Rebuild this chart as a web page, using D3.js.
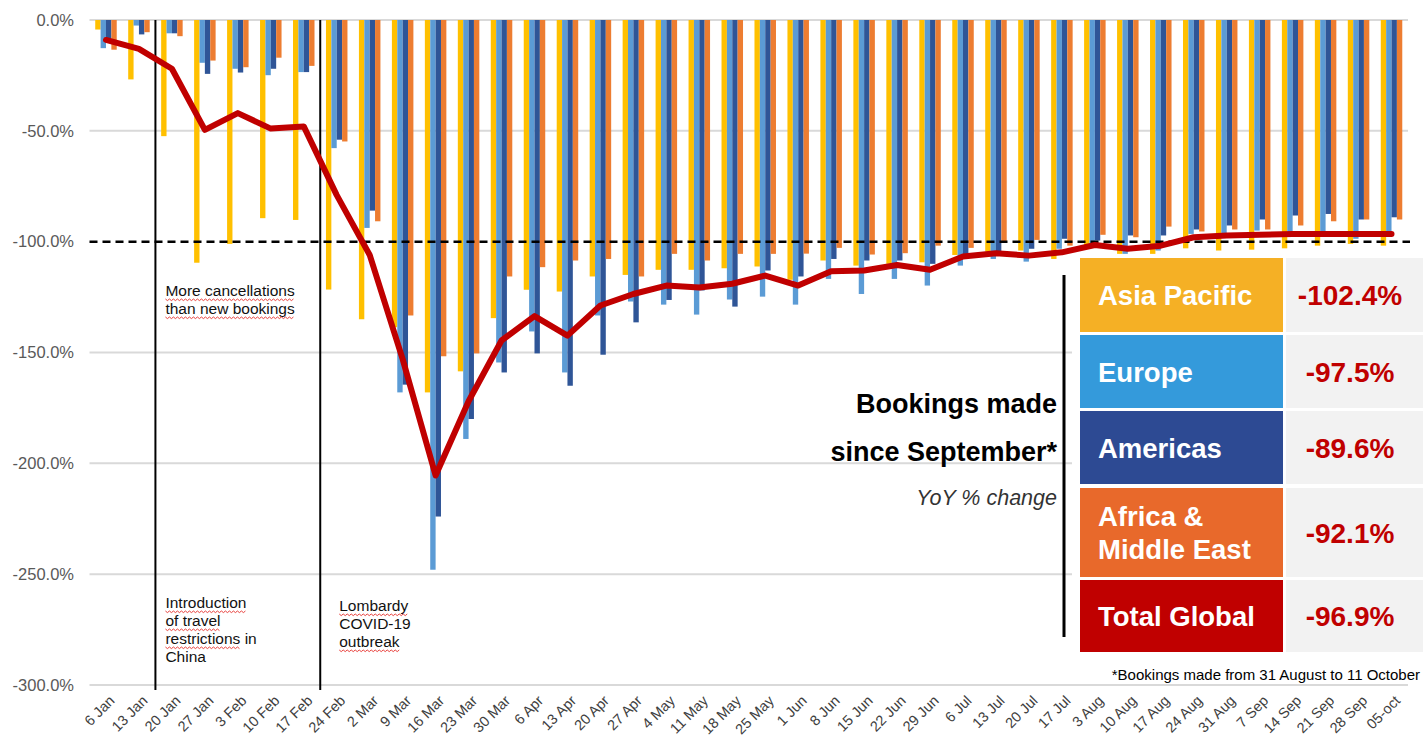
<!DOCTYPE html>
<html>
<head>
<meta charset="utf-8">
<script src="https://cdn.jsdelivr.net/npm/d3@7"></script>
<style>
  html, body { margin: 0; padding: 0; background: #fff; }
  svg { display: block; font-family: "Liberation Sans", Arial, sans-serif; }
</style>
</head>
<body>
<svg id="chart" width="1423" height="742"></svg>
<script>
// ---------- DATA ----------
const categories = ["6 Jan","13 Jan","20 Jan","27 Jan","3 Feb","10 Feb","17 Feb","24 Feb","2 Mar","9 Mar",
  "16 Mar","23 Mar","30 Mar","6 Apr","13 Apr","20 Apr","27 Apr","4 May","11 May","18 May",
  "25 May","1 Jun","8 Jun","15 Jun","22 Jun","29 Jun","6 Jul","13 Jul","20 Jul","17 Jul",
  "3 Aug","10 Aug","17 Aug","24 Aug","31 Aug","7 Sep","14 Sep","21 Sep","28 Sep","05-oct"];

const asiaPacific = [-4.3,-26.8,-52.4,-109.5,-101,-89.4,-90.2,-121.6,-135,-138.6,
  -168,-158.5,-134.5,-121.7,-122.5,-115.7,-115,-112.7,-112.7,-112,
  -111.2,-117.2,-108.5,-110.8,-110,-109.3,-106,-104.5,-104,-107.8,
  -102.5,-105.5,-105.5,-103,-104,-103.6,-103,-101.8,-101,-101.8];

const europe = [-12.7,-2.5,-6,-19.3,-22,-24.9,-23.5,-57.8,-93.8,-168,
  -248,-189,-154.5,-140.5,-159,-133.3,-127,-128.4,-132.9,-126.1,
  -124.8,-128.4,-116.8,-123.6,-116.8,-119.8,-110.8,-107.8,-109,-103.2,
  -101,-105.5,-104,-96.5,-96.5,-95,-95.7,-95.7,-98.7,-97.2];

const americas = [-10,-6.5,-6,-24.3,-23.7,-22,-23.5,-54,-86,-164.5,
  -224,-180,-159,-150.4,-165,-151,-136.4,-126.3,-122,-129.3,
  -113,-115.7,-107.8,-108.5,-108.5,-110,-107.8,-105.5,-103.2,-98.7,
  -99.5,-97.2,-97.2,-94.5,-92.7,-90,-88.2,-87.5,-90,-89];

const africaME = [-13.4,-5.5,-7.3,-18.3,-21.3,-17,-20.7,-54.8,-90.8,-133.3,
  -151.7,-150.4,-115.7,-111.5,-108.5,-107.8,-115.7,-105.5,-108.5,-105.5,
  -105.5,-105.4,-102.8,-105.8,-105.2,-101.8,-102.8,-99.8,-99.2,-101.8,
  -96.9,-98,-93.2,-95.4,-94.5,-94.5,-92.7,-90.8,-90,-90];

const totalGlobal = [-9,-13,-22,-49.6,-42,-49,-48,-79,-106,-153,
  -205.5,-172,-144.6,-133.6,-142.4,-128.8,-123.6,-119.8,-120.7,-119,
  -115.3,-119.8,-113.3,-113,-110.5,-112.7,-106.7,-105.2,-106.3,-104.8,
  -101.5,-103.2,-101.8,-98,-97.2,-96.9,-96.5,-96.5,-96.5,-96.5];

const yTicks = [0,-50,-100,-150,-200,-250,-300];
const referenceLevel = -100;

const regionNames = ["Asia Pacific","Europe","Americas","Africa &\nMiddle East","Total Global"];
const regionChange = [-102.4,-97.5,-89.6,-92.1,-96.9];

const noteCancel = {lines: ["More cancellations","than new bookings"], wavy: [true,true]};
const eventLines = [ {after: "13 Jan", lines: ["Introduction","of travel","restrictions in","China"], wavy:["Introduction","of travel","restrictions",null]},
                     {after: "17 Feb", lines: ["Lombardy","COVID-19","outbreak"], wavy:["Lombardy",null,"outbreak"]} ];

// ---------- LAYOUT ----------
const svg = d3.select("#chart");
const W = 1423, H = 742;
const plot = {left: 89.5, right: 1408, top: 20, bottom: 685};

const seriesKeys = ["ap","eu","am","af"];
const seriesColors = {ap:"#FFC000", eu:"#5B9BD5", am:"#2F5597", af:"#ED7D31"};
const seriesData = {ap: asiaPacific, eu: europe, am: americas, af: africaME};

const x0 = d3.scaleBand().domain(categories).range([plot.left, plot.right]).padding(0);
const step = x0.step();
const groupW = 21.5;
const x1 = d3.scaleBand().domain(seriesKeys).range([0, groupW]).padding(0);
const y = d3.scaleLinear().domain([-300, 0]).range([plot.bottom, plot.top]);
const cx = c => x0(c) + step / 2;

// gridlines
svg.append("g").selectAll("line").data(yTicks.filter(t => t !== referenceLevel)).join("line")
  .attr("x1", plot.left).attr("x2", plot.right)
  .attr("y1", d => y(d)).attr("y2", d => y(d))
  .attr("stroke", "#D9D9D9").attr("stroke-width", 2);

// y tick labels
const yAxis = d3.axisLeft(y).tickValues(yTicks).tickSize(0).tickPadding(0)
  .tickFormat(d => d.toFixed(1) + "%");
const gy = svg.append("g").attr("transform", "translate(74,0)").call(yAxis);
gy.select(".domain").remove();
gy.selectAll("text").attr("font-size", 16.5).attr("fill", "#595959")
  .attr("font-family", "'Liberation Sans', Arial, sans-serif");

// bars
const groups = svg.append("g").selectAll("g").data(categories).join("g")
  .attr("transform", c => `translate(${x0(c) + (step - groupW) / 2},0)`);
groups.selectAll("rect").data((c, i) => seriesKeys.map(k => ({k, v: seriesData[k][i]}))).join("rect")
  .attr("x", d => x1(d.k))
  .attr("width", x1.bandwidth())
  .attr("y", y(0))
  .attr("height", d => y(d.v) - y(0))
  .attr("fill", d => seriesColors[d.k]);

// dashed -100% line
svg.append("line")
  .attr("x1", plot.left).attr("x2", plot.right + 2)
  .attr("y1", y(referenceLevel)).attr("y2", y(referenceLevel))
  .attr("stroke", "#000").attr("stroke-width", 2.5).attr("stroke-dasharray", "8,5");

// event vertical lines
eventLines.forEach(ev => {
  const idx = categories.indexOf(ev.after) + 1;
  const xv = x0(categories[idx]);
  svg.append("line").attr("x1", xv).attr("x2", xv).attr("y1", plot.top).attr("y2", plot.bottom + 5)
    .attr("stroke", "#000").attr("stroke-width", 2);
});

// notes with red wavy "spell-check" underline
function wavyPath(x, yy, len) {
  let d = `M${x},${yy}`;
  const p = 2;
  for (let i = 0; x + (i + 1) * p <= x + len; i++) {
    d += ` L${x + (i + 1) * p},${yy + (i % 2 === 0 ? 1.6 : 0)}`;
  }
  return d;
}
function note(xp, yp, lines, wavy, lh) {
  lines.forEach((s, i) => {
    const t = svg.append("text").attr("x", xp).attr("y", yp + i * lh)
      .attr("font-size", 15.5).attr("fill", "#111").attr("textLength", null).text(s);
    const w = wavy[i];
    if (w) {
      let len;
      if (w === true || w === s) len = t.node().getComputedTextLength();
      else len = t.node().getSubStringLength(0, w.length);
      svg.append("path").attr("d", wavyPath(xp, yp + i * lh + 3, len))
        .attr("fill", "none").attr("stroke", "#E8403C").attr("stroke-width", 1);
    }
  });
}
const vA = x0(categories[categories.indexOf("13 Jan") + 1]);
const vB = x0(categories[categories.indexOf("17 Feb") + 1]);
note(vA + 10, 296, noteCancel.lines, noteCancel.wavy, 18);
note(vA + 10, 608, eventLines[0].lines, eventLines[0].wavy, 18);
note(vB + 19, 611, eventLines[1].lines, eventLines[1].wavy, 18);

// total global line
const line = d3.line().x((d, i) => cx(categories[i])).y(d => y(d));
svg.append("path").datum(totalGlobal).attr("d", line)
  .attr("fill", "none").attr("stroke", "#C00000").attr("stroke-width", 6)
  .attr("stroke-linejoin", "round").attr("stroke-linecap", "round");

// x axis labels
const xAxis = d3.axisBottom(x0).tickSize(0).tickPadding(0);
const gx = svg.append("g").attr("transform", `translate(0,${plot.bottom + 13})`).call(xAxis);
gx.select(".domain").remove();
gx.selectAll("text").attr("font-size", 14.5).attr("fill", "#404040")
  .attr("font-family", "'Liberation Sans', Arial, sans-serif")
  .attr("text-anchor", "end").attr("y", 0).attr("dy", "0.35em")
  .attr("transform", "translate(6,0) rotate(-45)");

// ---------- SUMMARY PANEL ----------
const panel = svg.append("g");
panel.append("rect").attr("x", 1072).attr("y", 254).attr("width", W - 1072).attr("height", 402).attr("fill", "#fff");
const regionColors = ["#F5B025","#349ADB","#2D4A93","#E8692B","#C00000"];
const rowTops = [258, 335, 411, 488, 580];
const rowBots = [332, 408, 484, 577, 652];
regionNames.forEach((name, i) => {
  const t = rowTops[i], b = rowBots[i], mid = (t + b) / 2;
  panel.append("rect").attr("x", 1080).attr("y", t).attr("width", 203).attr("height", b - t).attr("fill", regionColors[i]);
  panel.append("rect").attr("x", 1286).attr("y", t).attr("width", W - 1286).attr("height", b - t).attr("fill", "#F2F2F2");
  const parts = name.split("\n");
  const lbl = panel.append("text").attr("fill", "#fff").attr("font-weight", "bold").attr("font-size", 27.5);
  parts.forEach((p, j) => {
    lbl.append("tspan").attr("x", 1098).attr("y", mid + 10 + (j - (parts.length - 1) / 2) * 33).text(p);
  });
  panel.append("text").attr("x", 1350).attr("y", mid + 10).attr("text-anchor", "middle")
    .attr("fill", "#C00000").attr("font-weight", "bold").attr("font-size", 28)
    .text(regionChange[i].toFixed(1) + "%");
});
svg.append("line").attr("x1", 1064).attr("x2", 1064).attr("y1", 275).attr("y2", 637)
  .attr("stroke", "#000").attr("stroke-width", 3);
svg.append("text").attr("x", 1057).attr("y", 413).attr("text-anchor", "end")
  .attr("font-weight", "bold").attr("font-size", 27).attr("fill", "#000").text("Bookings made");
svg.append("text").attr("x", 1057).attr("y", 461).attr("text-anchor", "end")
  .attr("font-weight", "bold").attr("font-size", 27).attr("fill", "#000").text("since September*");
svg.append("text").attr("x", 1057).attr("y", 505).attr("text-anchor", "end")
  .attr("font-style", "italic").attr("font-size", 21.5).attr("fill", "#333").text("YoY % change");
svg.append("text").attr("x", 1420).attr("y", 680).attr("text-anchor", "end")
  .attr("font-size", 15).attr("fill", "#000").text("*Bookings made from 31 August to 11 October");
</script>
</body>
</html>
